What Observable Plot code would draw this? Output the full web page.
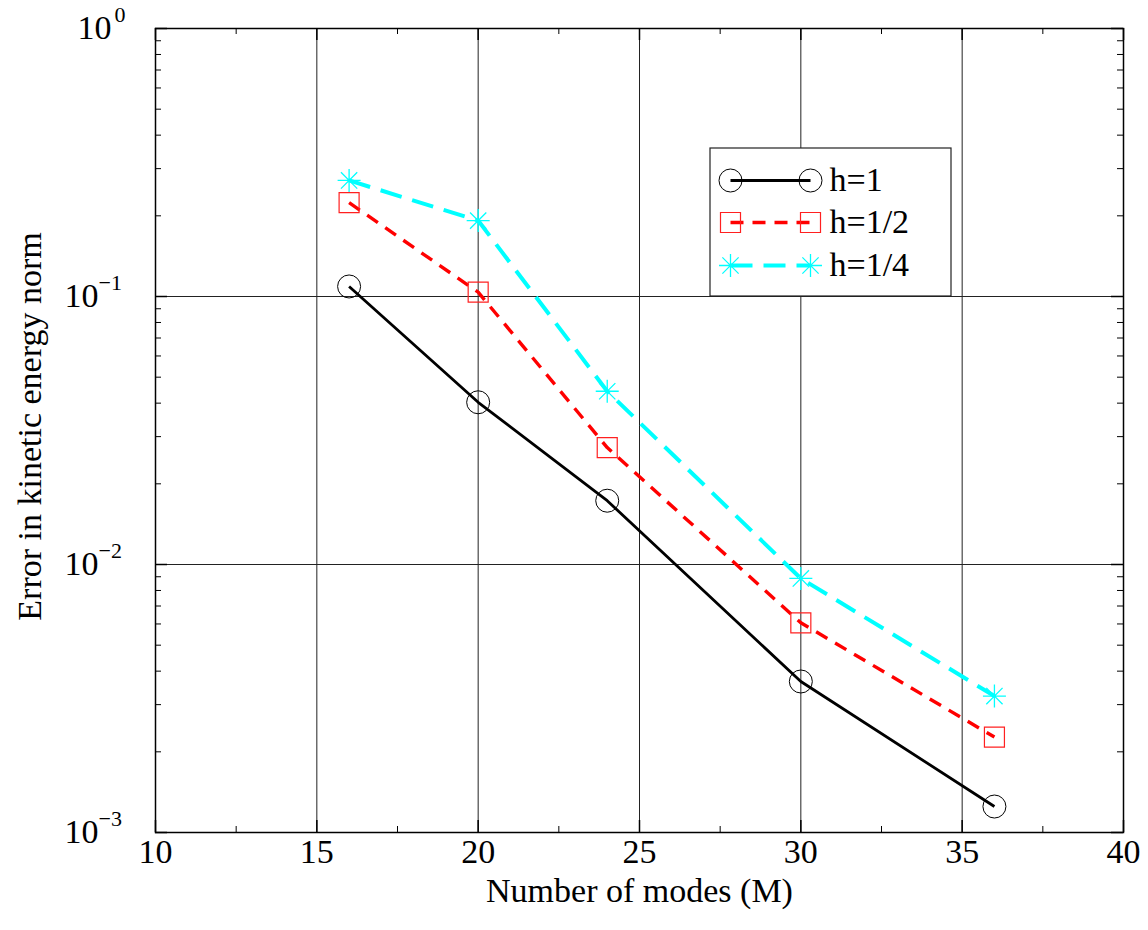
<!DOCTYPE html>
<html>
<head>
<meta charset="utf-8">
<script src="https://cdn.jsdelivr.net/npm/d3@7"></script>
<script src="https://cdn.jsdelivr.net/npm/@observablehq/plot@0.6"></script>
<style>
  html, body { margin: 0; padding: 0; background: white; }
</style>
</head>
<body>
<div id="chart"></div>
<script>
// ---- data ----
const modes = [16, 20, 24, 30, 36];
const errH1 = [0.109, 0.0403, 0.0173, 0.00366, 0.00125];
const errH2 = [0.224, 0.1038, 0.0273, 0.00606, 0.00227];
const errH4 = [0.271, 0.192, 0.0443, 0.00887, 0.00323];
const seriesNames = ["h=1", "h=1/2", "h=1/4"];
const xTicks = [10, 15, 20, 25, 30, 35, 40];
const xMinorTicks = [12.5, 17.5, 22.5, 27.5, 32.5, 37.5];
const yTicks = [1e-3, 1e-2, 1e-1, 1];
const yTickExponents = ["−3", "−2", "−1", "0"];
const xGrid = [15, 20, 25, 30, 35];
const yGrid = [1e-2, 1e-1];
const xLabel = "Number of modes (M)";
const yLabel = "Error in kinetic energy norm";

// ---- layout ----
const W = 1148, H = 930, ML = 155, MR = 25, MT = 28, MB = 98;
const fw = W - ML - MR, fh = H - MT - MB;
const FONT = "Liberation Serif";
const FS = 34;
const px2x = px => 10 + (px - ML) / fw * 30;
const py2y = py => Math.pow(10, -3 * (py - MT) / fh);

const yMinorTicks = [];
for (let e = -3; e < 0; e++) for (let m = 2; m <= 9; m++) yMinorTicks.push(m * Math.pow(10, e));

const star8 = {
  draw(ctx, size) {
    const r = Math.sqrt(size / Math.PI), d = r * Math.SQRT1_2;
    ctx.moveTo(-r, 0); ctx.lineTo(r, 0);
    ctx.moveTo(0, -r); ctx.lineTo(0, r);
    ctx.moveTo(-d, -d); ctx.lineTo(d, d);
    ctx.moveTo(-d, d); ctx.lineTo(d, -d);
  }
};
const squareSym = {
  draw(ctx, size) {
    const r = Math.sqrt(size / Math.PI);
    ctx.rect(-r, -r, 2 * r, 2 * r);
  }
};

const styles = [
  {values: errH1, color: "#000000", width: 2.8, dash: null, symbol: "circle", r: 11.5, mw: 1, mc: "#000000"},
  {values: errH2, color: "#ff0000", width: 3.4, dash: "13,9", symbol: squareSym, r: 10, mw: 1.2, mc: "#ff2020"},
  {values: errH4, color: "#00ffff", width: 4, dash: "22,11", symbol: star8, r: 11.5, mw: 1.3, mc: "#00ffff"}
];

const marks = [];
// grid
marks.push(Plot.ruleX(xGrid, {stroke: "#222", strokeWidth: 1}));
marks.push(Plot.ruleY(yGrid, {stroke: "#222", strokeWidth: 1}));
// ticks (inward)
marks.push(Plot.ruleX(xTicks, {insetTop: fh - 12, stroke: "black", strokeWidth: 1.5}));
marks.push(Plot.ruleX(xTicks, {insetBottom: fh - 12, stroke: "black", strokeWidth: 1.5}));
marks.push(Plot.ruleX(xMinorTicks, {insetTop: fh - 6, stroke: "black", strokeWidth: 1}));
marks.push(Plot.ruleX(xMinorTicks, {insetBottom: fh - 6, stroke: "black", strokeWidth: 1}));
marks.push(Plot.ruleY(yTicks, {insetRight: fw - 12, stroke: "black", strokeWidth: 1.5}));
marks.push(Plot.ruleY(yTicks, {insetLeft: fw - 12, stroke: "black", strokeWidth: 1.5}));
marks.push(Plot.ruleY(yMinorTicks, {insetRight: fw - 6, stroke: "black", strokeWidth: 1}));
marks.push(Plot.ruleY(yMinorTicks, {insetLeft: fw - 6, stroke: "black", strokeWidth: 1}));

// series
styles.forEach((s, i) => {
  const data = modes.map((m, j) => ({m, v: s.values[j]}));
  marks.push(Plot.line(data, {x: "m", y: "v", stroke: s.color, strokeWidth: s.width,
    strokeDasharray: s.dash || undefined, strokeLinecap: "butt", strokeLinejoin: "round"}));
  marks.push(Plot.dot(data, {x: "m", y: "v", symbol: () => s.symbol, r: s.r,
    stroke: s.mc, strokeWidth: s.mw, fill: "none"}));
});

// legend
const legX1 = px2x(710), legX2 = px2x(951), legY1 = py2y(148), legY2 = py2y(296);
marks.push(Plot.rect([0], {x1: () => legX1, x2: () => legX2, y1: () => legY1, y2: () => legY2,
  fill: "white", stroke: "#222", strokeWidth: 1.2}));
const rowPy = [180, 222, 265];
styles.forEach((s, i) => {
  const yv = py2y(rowPy[i]);
  const seg = [{x: px2x(730), y: yv}, {x: px2x(810), y: yv}];
  marks.push(Plot.line(seg, {x: "x", y: "y", stroke: s.color, strokeWidth: s.width,
    strokeDasharray: s.dash || undefined, strokeLinecap: "butt"}));
  marks.push(Plot.dot(seg, {x: "x", y: "y", symbol: () => s.symbol, r: s.r,
    stroke: s.mc, strokeWidth: s.mw, fill: "none"}));
  marks.push(Plot.text([seriesNames[i]], {x: () => px2x(829), y: () => yv, text: d => d,
    textAnchor: "start", fontSize: FS, fill: "black", fontFamily: FONT}));
});

// frame
marks.push(Plot.frame({stroke: "black", strokeWidth: 1.5}));

// x tick labels
marks.push(Plot.text(xTicks, {x: d => d, frameAnchor: "bottom", dy: 30, text: d => String(d),
  fontSize: FS, fill: "black", fontFamily: FONT}));
// y tick labels: base and exponent
const yt = yTicks.map((v, i) => ({v, e: yTickExponents[i]}));
marks.push(Plot.text(yt, {filter: d => d.e !== "0", y: "v", frameAnchor: "left", text: () => "10",
  textAnchor: "end", dx: -57, fontSize: FS, fill: "black", fontFamily: FONT}));
marks.push(Plot.text(yt, {filter: d => d.e !== "0", y: "v", frameAnchor: "left", text: "e",
  textAnchor: "start", dx: -57, dy: -14, fontSize: 22, fill: "black", fontFamily: FONT}));
marks.push(Plot.text(yt, {filter: d => d.e === "0", y: "v", frameAnchor: "left", text: () => "10",
  textAnchor: "end", dx: -44, fontSize: FS, fill: "black", fontFamily: FONT}));
marks.push(Plot.text(yt, {filter: d => d.e === "0", y: "v", frameAnchor: "left", text: "e",
  textAnchor: "start", dx: -41, dy: -14, fontSize: 22, fill: "black", fontFamily: FONT}));

// axis titles
marks.push(Plot.text([xLabel], {x: () => 25, frameAnchor: "bottom", dy: 69, text: d => d,
  fontSize: FS, fill: "black", fontFamily: FONT}));
marks.push(Plot.text([yLabel], {x: () => px2x(30), y: () => py2y(426), rotate: -90, text: d => d,
  fontSize: FS, fill: "black", fontFamily: FONT}));

const chart = Plot.plot({
  width: W, height: H,
  marginLeft: ML, marginRight: MR, marginTop: MT, marginBottom: MB,
  style: {fontFamily: FONT, background: "white", overflow: "visible"},
  x: {domain: [10, 40], axis: null},
  y: {type: "log", domain: [1e-3, 1], axis: null},
  marks
});
document.getElementById("chart").appendChild(chart);
</script>
</body>
</html>
